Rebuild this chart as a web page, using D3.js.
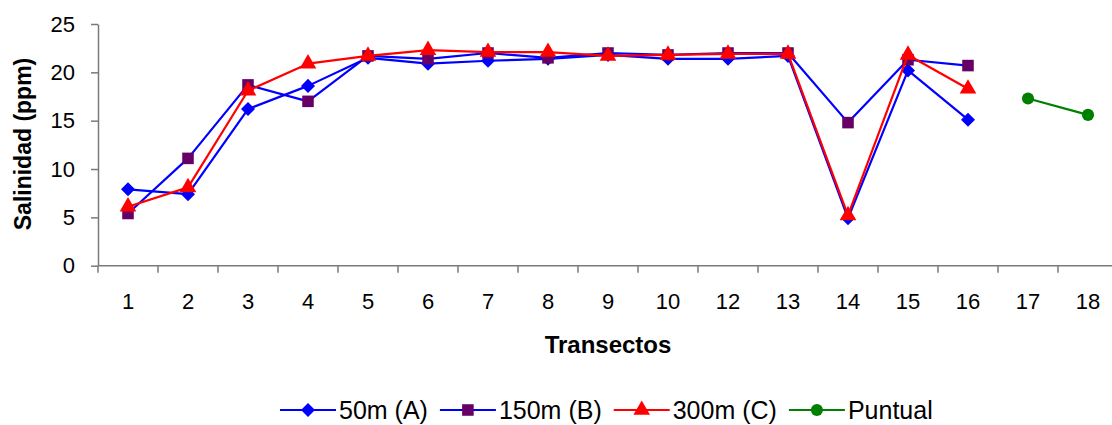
<!DOCTYPE html>
<html>
<head>
<meta charset="utf-8">
<script src="https://cdn.jsdelivr.net/npm/d3@7"></script>
<style>
  html, body { margin: 0; padding: 0; background: #fff; }
  svg { display: block; font-family: "Liberation Sans", Arial, sans-serif; }
</style>
</head>
<body>
<svg id="chart" width="1112" height="425"></svg>
<script>
// Transect labels along the x axis (transect 11 is not sampled)
const categories = ["1","2","3","4","5","6","7","8","9","10","12","13","14","15","16","17","18"];

// Salinity (ppm) per transect at each distance from shore
const serie50m  = [7.9, 7.4, 16.2, 18.6, 21.5, 20.9, 21.2, 21.4, 21.8, 21.4, 21.4, 21.7, 4.9, 20.2, 15.1, null, null];
const serie150m = [5.4, 11.1, 18.7, 17.0, 21.7, 21.4, 22.0, 21.5, 22.0, 21.8, 22.0, 22.0, 14.8, 21.3, 20.7, null, null];
const serie300m = [6.1, 8.1, 18.1, 20.9, 21.7, 22.3, 22.1, 22.1, 21.7, 21.8, 21.9, 21.9, 5.2, 21.8, 18.3, null, null];
const puntual   = [null, null, null, null, null, null, null, null, null, null, null, null, null, null, null, 17.3, 15.6];

const yTicks = [0, 5, 10, 15, 20, 25];

const series = [
  { name: "50m (A)",  values: serie50m,  line: "#0000ff", fill: "#0000ff", symbol: d3.symbolDiamond2, size: 125 },
  { name: "150m (B)", values: serie150m, line: "#0000ff", fill: "#660066", symbol: d3.symbolSquare2,  size: 170 },
  { name: "300m (C)", values: serie300m, line: "#ff0000", fill: "#ff0000", symbol: d3.symbolTriangle, size: 120 },
  { name: "Puntual",  values: puntual,   line: "#008000", fill: "#008000", symbol: d3.symbolCircle,   size: 115 }
];

const svg = d3.select("#chart");
const plot = { left: 98, right: 1118, top: 24, bottom: 265.7 };

const x = d3.scaleBand().domain(categories).range([plot.left, plot.right]).padding(0);
const y = d3.scaleLinear().domain([0, 25]).range([plot.bottom, plot.top]);
const xEdges = d3.scaleLinear().domain([0, categories.length]).range([plot.left, plot.right]);
const cx = c => x(c) + x.bandwidth() / 2;

const axisColor = "#7a7a7a";

// Y axis
const yAxis = svg.append("g")
  .attr("transform", `translate(${plot.left},0)`)
  .call(d3.axisLeft(y).tickValues(yTicks).tickSize(7).tickSizeOuter(0).tickPadding(16));
yAxis.select(".domain").attr("stroke", axisColor).attr("stroke-width", 1.5);
yAxis.selectAll(".tick line").attr("stroke", axisColor).attr("stroke-width", 1.5);
yAxis.selectAll(".tick text")
  .attr("font-size", 22).attr("fill", "#000").attr("font-family", "Liberation Sans, Arial, sans-serif");

// X axis: tick marks sit between categories, labels centred in each band
const xAxis = svg.append("g").attr("transform", `translate(0,${plot.bottom})`);
xAxis.append("line")
  .attr("x1", plot.left).attr("x2", plot.right)
  .attr("stroke", axisColor).attr("stroke-width", 1.5);
xAxis.selectAll("line.edge")
  .data(d3.range(categories.length + 1))
  .join("line")
  .attr("class", "edge")
  .attr("x1", i => xEdges(i)).attr("x2", i => xEdges(i))
  .attr("y1", 0).attr("y2", 7)
  .attr("stroke", axisColor).attr("stroke-width", 1.5);
xAxis.call(g => g.append("g")
  .call(d3.axisBottom(x).tickSize(0).tickPadding(28))
  .call(a => a.select(".domain").remove())
  .selectAll("text")
  .attr("font-size", 22).attr("fill", "#000").attr("font-family", "Liberation Sans, Arial, sans-serif"));

// Axis titles
svg.append("text")
  .attr("x", 608).attr("y", 353)
  .attr("text-anchor", "middle")
  .attr("font-size", 24).attr("font-weight", "bold")
  .text("Transectos");

svg.append("text")
  .attr("transform", `translate(31,144) rotate(-90)`)
  .attr("text-anchor", "middle")
  .attr("font-size", 23).attr("font-weight", "bold")
  .text("Salinidad (ppm)");

// Series lines and markers
const line = d3.line()
  .defined(d => d.v != null)
  .x(d => cx(d.c))
  .y(d => y(d.v));

series.forEach(s => {
  const pts = categories.map((c, i) => ({ c, v: s.values[i] }));
  const g = svg.append("g");
  g.append("path")
    .datum(pts)
    .attr("d", line)
    .attr("fill", "none")
    .attr("stroke", s.line)
    .attr("stroke-width", 2.2)
    .attr("stroke-linejoin", "round");
  g.selectAll("path.mark")
    .data(pts.filter(d => d.v != null))
    .join("path")
    .attr("class", "mark")
    .attr("transform", d => `translate(${cx(d.c)},${y(d.v)})`)
    .attr("d", d3.symbol().type(s.symbol).size(s.size))
    .attr("fill", s.fill);
});

// Legend
const legend = svg.append("g").attr("transform", "translate(0,410)");
let lx = 280;
series.forEach(s => {
  const item = legend.append("g").attr("transform", `translate(${lx},0)`);
  item.append("line").attr("x1", 0).attr("x2", 56)
    .attr("stroke", s.line).attr("stroke-width", 2.2);
  item.append("path")
    .attr("transform", "translate(28,0)")
    .attr("d", d3.symbol().type(s.symbol).size(s.size))
    .attr("fill", s.fill);
  const t = item.append("text")
    .attr("x", 59).attr("dy", "0.35em")
    .attr("font-size", 25)
    .text(s.name);
  lx += 59 + t.node().getComputedTextLength() + 12;
});
</script>
</body>
</html>
